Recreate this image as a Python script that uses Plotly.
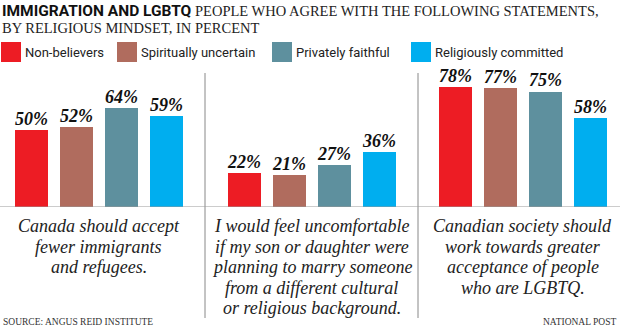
import plotly.graph_objects as go

# Survey data: share agreeing with each statement, by religious mindset
groups = ["Non-believers", "Spiritually uncertain", "Privately faithful", "Religiously committed"]
colors = ["#ED1C24", "#B06C5E", "#5E909E", "#00AEEF"]
statements = [
    ["Canada should accept", "fewer immigrants", "and refugees."],
    ["I would feel uncomfortable", "if my son or daughter were",
     "planning to marry someone", "from a different cultural",
     "or religious background."],
    ["Canadian society should", "work towards greater",
     "acceptance of people", "who are LGBTQ."],
]
non_believers = [50, 22, 78]
spiritually_uncertain = [52, 21, 77]
privately_faithful = [64, 27, 75]
religiously_committed = [59, 36, 58]

title = "IMMIGRATION AND LGBTQ"
subtitle_1 = "PEOPLE WHO AGREE WITH THE FOLLOWING STATEMENTS,"
subtitle_2 = "BY RELIGIOUS MINDSET, IN PERCENT"
source = "SOURCE: ANGUS REID INSTITUTE"
credit = "NATIONAL POST"

W, H = 620, 333
series = [non_believers, spiritually_uncertain, privately_faithful, religiously_committed]
panel_centers = [98.5, 311.5, 522.5]
step, bar_w = 45, 33


def py(px):
    """Pixel row from the top -> paper y."""
    return 1 - px / H


SERIF = "Liberation Serif, DejaVu Serif, serif"
SANS = "Roboto, Liberation Sans, sans-serif"

fig = go.Figure()
annotations = []
shapes = []

for i, (name, vals, col) in enumerate(zip(groups, series, colors)):
    xs = [c + (i - 1.5) * step for c in panel_centers]
    fig.add_trace(go.Bar(x=xs, y=vals, width=bar_w, name=name,
                         marker=dict(color=col, line=dict(width=0)),
                         hoverinfo="skip", showlegend=False))
    for x, v in zip(xs, vals):
        annotations.append(dict(x=x, y=v, xref="x", yref="y", text=f"{v}%",
                                showarrow=False, yanchor="bottom", yshift=-1,
                                font=dict(family=SERIF, size=18, color="#111",
                                          style="italic", weight="bold")))

# Statement text under each panel, one annotation per line for tight leading
line_gap = 20.5
for c, lines in zip(panel_centers, statements):
    for k, line in enumerate(lines):
        annotations.append(dict(x=c, y=py(226 + k * line_gap), xref="x", yref="paper",
                                text=line, showarrow=False,
                                xanchor="center", yanchor="middle",
                                font=dict(family=SERIF, size=18, color="#222",
                                          style="italic")))

# Panel dividers and baseline
for xd in [205, 418]:
    shapes.append(dict(type="line", xref="x", yref="paper", x0=xd, x1=xd,
                       y0=py(73), y1=py(318), line=dict(color="#888", width=1)))
shapes.append(dict(type="line", xref="paper", yref="y", x0=0, x1=1, y0=0, y1=0,
                   line=dict(color="#999", width=1)))

# Legend swatches
legend_x = [1, 117, 272, 411]
for lx, name, col in zip(legend_x, groups, colors):
    shapes.append(dict(type="rect", xref="x", yref="paper", x0=lx, x1=lx + 20,
                       y0=py(62), y1=py(42), fillcolor=col, line=dict(width=0)))
    annotations.append(dict(x=lx + 22, y=py(52), xref="x", yref="paper", text=name,
                            showarrow=False, xanchor="left", yanchor="middle",
                            font=dict(family=SANS, size=13, color="#222")))

# Headline
annotations.append(dict(x=0, y=py(11), xref="x", yref="paper", text=title,
                        showarrow=False, xanchor="left", yanchor="middle",
                        font=dict(family=SANS, size=15.5, color="#111", weight="bold")))
annotations.append(dict(x=193, y=py(11), xref="x", yref="paper", text=subtitle_1,
                        showarrow=False, xanchor="left", yanchor="middle",
                        font=dict(family=SERIF, size=14.5, color="#222")))
annotations.append(dict(x=0, y=py(28), xref="x", yref="paper", text=subtitle_2,
                        showarrow=False, xanchor="left", yanchor="middle",
                        font=dict(family=SERIF, size=14.5, color="#222")))

# Footer
annotations.append(dict(x=1, y=py(322), xref="x", yref="paper", text=source,
                        showarrow=False, xanchor="left", yanchor="middle",
                        font=dict(family=SERIF, size=9.5, color="#333")))
annotations.append(dict(x=618, y=py(322), xref="x", yref="paper", text=credit,
                        showarrow=False, xanchor="right", yanchor="middle",
                        font=dict(family=SERIF, size=9.5, color="#333")))

fig.update_layout(
    width=W, height=H,
    margin=dict(l=0, r=0, t=0, b=0),
    paper_bgcolor="white", plot_bgcolor="white",
    xaxis=dict(range=[0, W], visible=False, fixedrange=True),
    yaxis=dict(range=[0, 100], domain=[py(207), py(53)], visible=False, fixedrange=True),
    bargap=0,
    annotations=annotations,
    shapes=shapes,
)

fig.write_html("out.html")
